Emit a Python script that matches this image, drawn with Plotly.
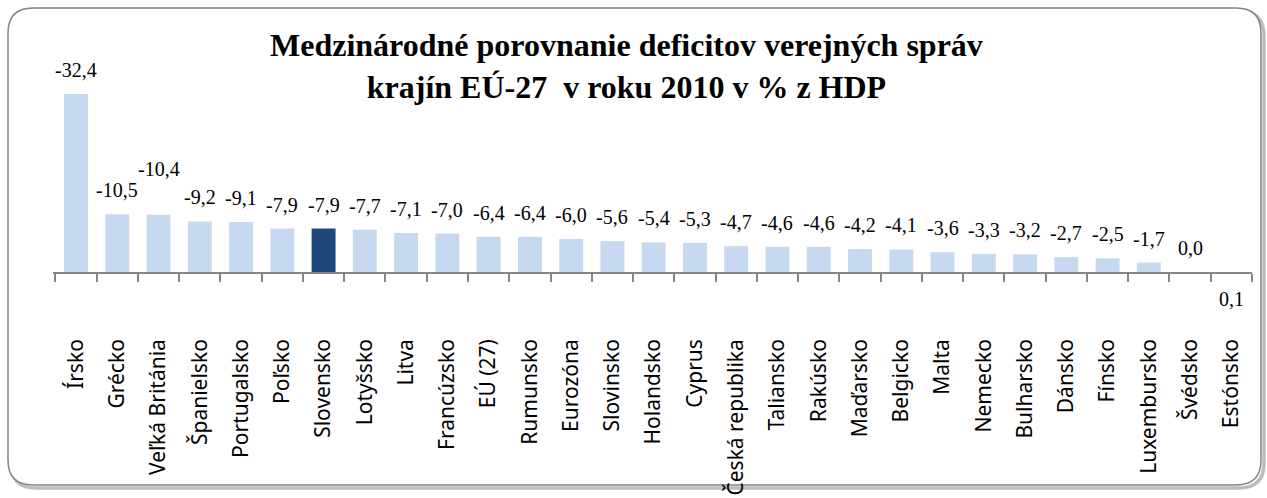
import plotly.graph_objects as go

# Údaje: saldo verejných financií 2010 (% HDP)
krajiny = ['Írsko', 'Grécko', 'Veľká Británia', 'Španielsko', 'Portugalsko', 'Poľsko',
           'Slovensko', 'Lotyšsko', 'Litva', 'Francúzsko', 'EÚ (27)', 'Rumunsko',
           'Eurozóna', 'Slovinsko', 'Holandsko', 'Cyprus', 'Česká republika', 'Taliansko',
           'Rakúsko', 'Maďarsko', 'Belgicko', 'Malta', 'Nemecko', 'Bulharsko', 'Dánsko',
           'Fínsko', 'Luxembursko', 'Švédsko', 'Estónsko']
saldo = [-32.4, -10.5, -10.4, -9.2, -9.1, -7.9, -7.9, -7.7, -7.1, -7.0, -6.4, -6.4,
         -6.0, -5.6, -5.4, -5.3, -4.7, -4.6, -4.6, -4.2, -4.1, -3.6, -3.3, -3.2, -2.7,
         -2.5, -1.7, 0.0, 0.1]
zvyraznene = 'Slovensko'

W, H = 1267, 498
L, R, T, B = 53, 15, 60, 226
PW, PH = W - L - R, H - T - B


def px(x):
    return (x - L) / PW


def py(y):
    return (H - B - y) / PH


def zaobleny(x0, y0, x1, y1, r):
    return (f"M {px(x0 + r)},{py(y0)} L {px(x1 - r)},{py(y0)} "
            f"Q {px(x1)},{py(y0)} {px(x1)},{py(y0 + r)} L {px(x1)},{py(y1 - r)} "
            f"Q {px(x1)},{py(y1)} {px(x1 - r)},{py(y1)} L {px(x0 + r)},{py(y1)} "
            f"Q {px(x0)},{py(y1)} {px(x0)},{py(y1 - r)} L {px(x0)},{py(y0 + r)} "
            f"Q {px(x0)},{py(y0)} {px(x0 + r)},{py(y0)} Z")


farby = ['#1F497D' if k == zvyraznene else '#C6D9F1' for k in krajiny]

fig = go.Figure()
fig.add_trace(go.Bar(
    x=krajiny, y=saldo,
    marker=dict(color=farby, line=dict(width=0)),
    hoverinfo='x+y'
))

# Popisky hodnôt
for k, v in zip(krajiny, saldo):
    text = f"{v:.1f}".replace('.', ',')
    if v > 0:
        fig.add_annotation(x=k, y=0, text=text, showarrow=False, yanchor='top',
                           yshift=-14, font=dict(family='Liberation Serif', size=20, color='#000'))
    else:
        posun = 33 if k == 'Veľká Británia' else 11
        fig.add_annotation(x=k, y=v, text=text, showarrow=False, yanchor='bottom',
                           yshift=posun, font=dict(family='Liberation Serif', size=20, color='#000'))

fig.add_annotation(
    x=px(626), y=py(25), xref='paper', yref='paper', xanchor='center', yanchor='top',
    text='<b>Medzinárodné porovnanie deficitov verejných správ<br>krajín EÚ-27  v roku 2010 v % z HDP</b>',
    showarrow=False, font=dict(family='Liberation Serif', size=32, color='#000')
)

# Rámček so zaoblenými rohmi a tieňom
fig.add_shape(type='path', xref='paper', yref='paper', layer='below',
              path=zaobleny(11, 11, 1264, 488, 25), line=dict(color='#bdbdbd', width=3.5))
fig.add_shape(type='path', xref='paper', yref='paper', layer='below',
              path=zaobleny(8, 8, 1261, 485, 25), line=dict(color='#858585', width=1.5),
              fillcolor='white')

fig.update_xaxes(
    type='category', showline=True, linecolor='#868686', linewidth=1.5,
    ticks='outside', tickson='boundaries', ticklen=8, tickcolor='#868686', tickwidth=1.5,
    tickangle=-90, ticklabelstandoff=57, automargin=False,
    tickfont=dict(family='Noto Sans', size=21, color='#000'),
    showgrid=False
)
fig.update_yaxes(range=[0, -(H - B - T) / 5.494], visible=False, showgrid=False,
                 zeroline=False, automargin=False)

fig.update_layout(
    width=W, height=H,
    margin=dict(l=L, r=R, t=T, b=B, autoexpand=False),
    bargap=0.42,
    plot_bgcolor='rgba(0,0,0,0)', paper_bgcolor='white',
    showlegend=False
)

fig.write_html('out.html', config={'displayModeBar': False},
               post_script="document.body.style.margin='0';")
